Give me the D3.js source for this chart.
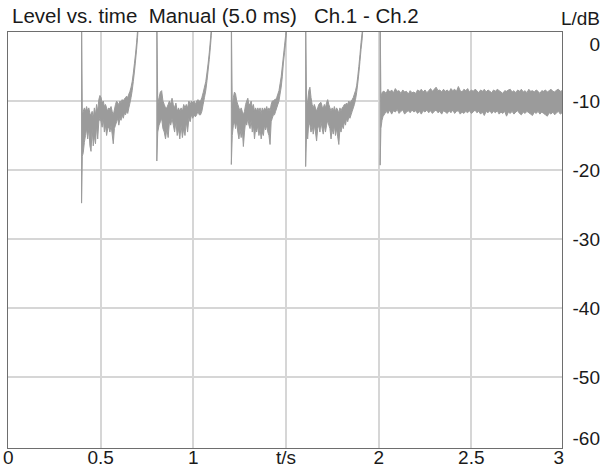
<!DOCTYPE html>
<html>
<head>
<meta charset="utf-8">
<script src="https://cdn.jsdelivr.net/npm/d3@7"></script>
<style>
  body { margin: 0; background: #fff; }
  svg text { font-family: "Liberation Sans", Arial, sans-serif; fill: #1a1a1a; }
</style>
</head>
<body>
<div id="vis"></div>
<script>
// Level vs. time, Ch.1 - Ch.2, [t (s), min dB, max dB]

var xTicks      = [0, 0.5, 1, 1.5, 2, 2.5, 3];
var xTickLabels = ['0', '0.5', '1', 't/s', '2', '2.5', '3'];
var yTicks      = [0, -10, -20, -30, -40, -50, -60];
var xGrid       = [0.5, 1, 1.5, 2, 2.5];
var yGrid       = [-10, -20, -30, -40, -50];

var burst1 = [
  [0.397, -24.8, 3], [0.401, -18, -12], [0.406, -17.5, -11.5], [0.412, -16, -11],
  [0.418, -15, -11.5], [0.424, -14, -10.8], [0.430, -15.5, -11.5], [0.436, -14, -11],
  [0.442, -16.5, -11.8], [0.448, -17.3, -12], [0.454, -14, -11.5], [0.460, -16.5, -12.5],
  [0.466, -15, -11], [0.472, -16.2, -12], [0.478, -13.5, -10.5], [0.484, -15.5, -11.5],
  [0.490, -13, -9.8], [0.496, -12.5, -9.2], [0.502, -13, -9.5], [0.508, -13.8, -10.3],
  [0.514, -12.5, -10], [0.520, -14.5, -10.8], [0.526, -13.5, -10.5], [0.532, -15, -11],
  [0.538, -14, -11.5], [0.544, -13.8, -11], [0.550, -14.5, -11.2], [0.556, -13.5, -10.8],
  [0.562, -14.8, -11.5], [0.568, -16.2, -12], [0.574, -14, -11.3], [0.580, -13.5, -10.5],
  [0.586, -13, -10], [0.592, -12.5, -10.3], [0.598, -13.5, -10.5], [0.604, -12.5, -10],
  [0.610, -12.8, -10.2], [0.616, -12, -9.8], [0.622, -12.5, -10], [0.628, -11.8, -9.7],
  [0.634, -12, -9.5], [0.640, -11.5, -9.3], [0.646, -11.8, -9.5], [0.652, -11, -9],
  [0.658, -10.3, -8.6], [0.664, -9.5, -8], [0.670, -8.5, -7.2], [0.676, -7.2, -6],
  [0.682, -5.8, -4.6], [0.688, -4.2, -3.2], [0.694, -2.5, -1.5], [0.699, -0.8, 0.2],
  [0.703, 1, 2]
];

var burst2 = [
  [0.803, -18.7, 3], [0.808, -14.5, -10.5], [0.815, -13.5, -9.5], [0.822, -13, -8.7],
  [0.829, -12.5, -8.5], [0.836, -14, -10], [0.843, -14.5, -10.5], [0.850, -15.5, -11],
  [0.857, -14, -11], [0.864, -15.3, -10.5], [0.871, -13, -10], [0.878, -13.5, -10.5],
  [0.885, -12.5, -9.6], [0.892, -13.5, -10.5], [0.899, -14.5, -11], [0.906, -13, -10.3],
  [0.913, -15, -11.5], [0.920, -14, -11], [0.927, -15.5, -11.5], [0.934, -13.5, -11],
  [0.941, -15.3, -11.5], [0.948, -14, -10.5], [0.955, -15, -11], [0.962, -13, -10.5],
  [0.969, -14.5, -11], [0.976, -12.5, -10], [0.983, -13, -10.5], [0.990, -12, -10],
  [0.997, -12.5, -10.3], [1.004, -12, -10], [1.011, -12.3, -10.5], [1.018, -12, -10],
  [1.025, -11.5, -9.8], [1.032, -12, -10], [1.039, -12, -10], [1.046, -11.5, -9.5],
  [1.053, -10.5, -8.8], [1.060, -9.5, -8], [1.067, -8.5, -7.2], [1.074, -7, -5.8],
  [1.080, -5.5, -4.5], [1.086, -4, -3], [1.092, -2.2, -1.2], [1.097, -0.5, 0.5],
  [1.100, 1, 2]
];

var burst3 = [
  [1.205, -19.2, 3], [1.210, -15, -11], [1.216, -13.5, -9.5], [1.222, -13, -8.7],
  [1.228, -14, -9], [1.234, -13, -10], [1.240, -14.5, -10.5], [1.246, -15.5, -11],
  [1.252, -14, -11.5], [1.258, -15.3, -11], [1.264, -14, -11.5], [1.270, -16.6, -12],
  [1.276, -14.5, -11.5], [1.282, -13, -10.5], [1.288, -13.5, -10], [1.294, -12.5, -9.6],
  [1.300, -13.5, -10.5], [1.306, -14, -10.5], [1.312, -12.8, -10], [1.318, -14.5, -11],
  [1.324, -13.5, -10.5], [1.330, -15.5, -11.5], [1.336, -14, -11], [1.342, -14.5, -11.5],
  [1.348, -13.5, -11], [1.354, -15, -11.5], [1.360, -14, -11], [1.366, -15.5, -11.8],
  [1.372, -14.5, -11], [1.378, -15, -11.5], [1.384, -13.5, -11], [1.390, -14.2, -11.3],
  [1.396, -13.5, -10.8], [1.402, -14.5, -11.5], [1.408, -15, -11], [1.414, -16.3, -11.5],
  [1.420, -13, -10.5], [1.426, -12.5, -10], [1.432, -12, -10], [1.438, -12, -9.8],
  [1.444, -11.5, -9.8], [1.450, -11, -9.5], [1.456, -10.5, -9], [1.462, -10, -8.5],
  [1.468, -9, -7.5], [1.474, -8, -6.5], [1.480, -6.5, -5], [1.486, -4.5, -3.5],
  [1.492, -3, -2], [1.498, -1.5, -0.5], [1.503, 0, 1], [1.508, 1, 2]
];

var burst4 = [
  [1.606, -19.5, 3], [1.611, -14.5, -10.5], [1.617, -15.5, -10], [1.623, -13, -8.5],
  [1.629, -13.5, -8.0], [1.635, -14.5, -9.5], [1.641, -13.5, -10.5], [1.647, -14.8, -11],
  [1.653, -13.5, -10.5], [1.659, -14.5, -11], [1.665, -15.8, -11.5], [1.671, -14, -11],
  [1.677, -13.5, -10.5], [1.683, -14.5, -10.3], [1.689, -13, -10.2], [1.695, -14, -10.8],
  [1.701, -14.8, -11], [1.707, -13.5, -10.5], [1.713, -14.5, -11], [1.719, -13.5, -10.2],
  [1.725, -12.8, -9.8], [1.731, -13.5, -10.5], [1.737, -14, -11], [1.743, -15.5, -11.5],
  [1.749, -14, -11], [1.755, -14.8, -11.5], [1.761, -13.5, -10.8], [1.767, -15, -11.5],
  [1.773, -14, -11], [1.779, -15.2, -11.3], [1.785, -16.3, -11.8], [1.791, -14, -11],
  [1.797, -14.5, -11.5], [1.803, -13.5, -11], [1.809, -14, -10.8], [1.815, -13, -10.5],
  [1.821, -13.5, -10.5], [1.827, -12.5, -10.3], [1.833, -13, -10.5], [1.839, -12.3, -10],
  [1.845, -12.5, -10.3], [1.851, -12, -10], [1.857, -11.5, -9.8], [1.863, -11, -9.5],
  [1.869, -10.5, -9], [1.875, -9.8, -8.5], [1.881, -8.8, -7.8], [1.887, -7.5, -6.5],
  [1.893, -6, -5], [1.899, -4.3, -3.3], [1.905, -2.5, -1.5], [1.911, -1, 0],
  [1.916, 1, 2]
];

var steady = [
  [2.008, -19.3, 3], [2.012, -14, -9.5], [2.018, -12.8, -8.8], [2.024, -12.2, -8.6],
  [2.03, -12.0, -8.6], [2.04, -11.5, -8.9], [2.05, -11.8, -8.3], [2.06, -11.3, -8.7],
  [2.07, -11.9, -8.4], [2.08, -11.4, -8.8], [2.09, -11.6, -8.2], [2.10, -11.2, -8.6],
  [2.11, -11.8, -8.5], [2.12, -11.5, -8.9], [2.13, -11.3, -8.4], [2.14, -11.9, -8.7],
  [2.15, -11.6, -8.6], [2.16, -11.4, -9.0], [2.17, -11.7, -8.5], [2.18, -11.3, -8.8],
  [2.19, -11.6, -8.7], [2.20, -11.4, -8.9], [2.21, -11.8, -8.4], [2.22, -11.5, -8.6],
  [2.23, -11.9, -8.3], [2.24, -11.4, -8.7], [2.25, -11.6, -8.4], [2.26, -11.3, -8.8],
  [2.27, -11.7, -8.5], [2.28, -11.4, -8.2], [2.29, -11.8, -8.6], [2.30, -11.5, -8.3],
  [2.31, -11.3, -8.0], [2.32, -11.7, -8.5], [2.33, -11.5, -8.4], [2.34, -11.9, -8.7],
  [2.35, -11.4, -8.3], [2.36, -11.6, -8.6], [2.37, -11.8, -8.4], [2.38, -11.4, -8.7],
  [2.39, -11.7, -8.2], [2.40, -11.3, -8.5], [2.41, -11.8, -8.3], [2.42, -11.5, -8.6],
  [2.43, -11.4, -7.9], [2.44, -11.9, -8.5], [2.45, -11.6, -8.7], [2.46, -11.8, -8.3],
  [2.47, -11.5, -8.5], [2.48, -11.7, -8.2], [2.49, -11.4, -8.7], [2.50, -11.8, -8.4],
  [2.51, -11.6, -8.6], [2.52, -11.3, -8.3], [2.53, -11.7, -8.5], [2.54, -11.5, -8.8],
  [2.55, -11.9, -8.4], [2.56, -11.6, -8.6], [2.57, -12.1, -8.3], [2.58, -11.5, -8.7],
  [2.59, -11.7, -8.4], [2.60, -11.4, -8.6], [2.61, -11.8, -8.8], [2.62, -11.5, -8.4],
  [2.63, -11.7, -8.6], [2.64, -11.4, -8.3], [2.65, -11.9, -8.5], [2.66, -11.6, -8.7],
  [2.67, -11.8, -8.9], [2.68, -11.5, -8.5], [2.69, -12.2, -8.6], [2.70, -11.6, -8.4],
  [2.71, -11.8, -8.3], [2.72, -11.5, -8.7], [2.73, -11.9, -8.5], [2.74, -11.6, -8.8],
  [2.75, -11.4, -8.4], [2.76, -11.8, -8.6], [2.77, -12.0, -8.3], [2.78, -11.6, -8.7],
  [2.79, -11.8, -8.5], [2.80, -11.5, -8.8], [2.81, -11.7, -8.3], [2.82, -11.9, -8.6],
  [2.83, -12.1, -8.5], [2.84, -11.6, -8.7], [2.85, -11.8, -8.4], [2.86, -11.5, -8.6],
  [2.87, -11.9, -8.9], [2.88, -11.6, -8.5], [2.89, -11.8, -8.6], [2.90, -12.0, -8.4],
  [2.91, -12.2, -8.7], [2.92, -11.7, -8.5], [2.93, -11.9, -8.3], [2.94, -11.6, -8.6],
  [2.95, -12.0, -8.7], [2.96, -11.7, -8.4], [2.97, -11.5, -8.3], [2.98, -11.9, -8.6],
  [2.99, -11.7, -8.5], [3.00, -11.8, -8.6]
];

var segments = [burst1, burst2, burst3, burst4, steady];

var W = 605, H = 469;
var frame = { left: 7, right: 563, top: 31, bottom: 449 };

var xScale = d3.scaleLinear().domain([0, 3]).range([8, 564]);
var yScale = d3.scaleLinear().domain([0, -60]).range([32, 446]);

var svg = d3.select('#vis').append('svg')
  .attr('width', W).attr('height', H);

svg.append('rect').attr('width', W).attr('height', H).attr('fill', '#fff');

svg.append('clipPath').attr('id', 'plot-clip')
  .append('rect')
  .attr('x', frame.left).attr('y', frame.top)
  .attr('width', frame.right - frame.left).attr('height', frame.bottom - frame.top);

// grid
svg.append('g').selectAll('line').data(xGrid).join('line')
  .attr('x1', d => Math.round(xScale(d))).attr('x2', d => Math.round(xScale(d)))
  .attr('y1', frame.top).attr('y2', frame.bottom)
  .attr('stroke', '#d6d6d6').attr('stroke-width', 2);

svg.append('g').selectAll('line').data(yGrid).join('line')
  .attr('y1', d => Math.round(yScale(d))).attr('y2', d => Math.round(yScale(d)))
  .attr('x1', frame.left).attr('x2', frame.right)
  .attr('stroke', '#d6d6d6').attr('stroke-width', 2);

// trace (min/max envelope per time bin)
var area = d3.area()
  .x(d => xScale(d[0]))
  .y0(d => yScale(d[1]))
  .y1(d => yScale(d[2]));

svg.append('g').attr('clip-path', 'url(#plot-clip)')
  .selectAll('path').data(segments).join('path')
  .attr('d', area)
  .attr('fill', '#9b9b9b')
  .attr('stroke', '#9b9b9b')
  .attr('stroke-width', 1)
  .attr('stroke-linejoin', 'round');

// frame
svg.append('rect')
  .attr('x', frame.left + 0.5).attr('y', frame.top + 0.5)
  .attr('width', frame.right - frame.left - 1).attr('height', frame.bottom - frame.top - 1)
  .attr('fill', 'none').attr('stroke', '#6e6e6e').attr('stroke-width', 1);

// title and unit
svg.append('text')
  .attr('x', 12).attr('y', 23)
  .attr('font-size', 20.5)
  .style('white-space', 'pre')
  .text('Level vs. time  Manual (5.0 ms)   Ch.1 - Ch.2');

svg.append('text')
  .attr('x', 600).attr('y', 25)
  .attr('text-anchor', 'end')
  .attr('font-size', 19)
  .text('L/dB');

// y tick labels (right side), end ones kept inside the frame
svg.append('g').selectAll('text').data(yTicks).join('text')
  .attr('x', 600)
  .attr('y', d => Math.min(Math.max(yScale(d), 44), 438) + 7)
  .attr('text-anchor', 'end')
  .attr('font-size', 19)
  .text(d => d);

// x tick labels
svg.append('g').selectAll('text').data(xTicks).join('text')
  .attr('x', (d, i) => i === 0 ? 3 : (i === xTicks.length - 1 ? 564 : xScale(d)))
  .attr('y', 464)
  .attr('text-anchor', (d, i) => i === 0 ? 'start' : (i === xTicks.length - 1 ? 'end' : 'middle'))
  .attr('font-size', 19)
  .text((d, i) => xTickLabels[i]);
</script>
</body>
</html>
